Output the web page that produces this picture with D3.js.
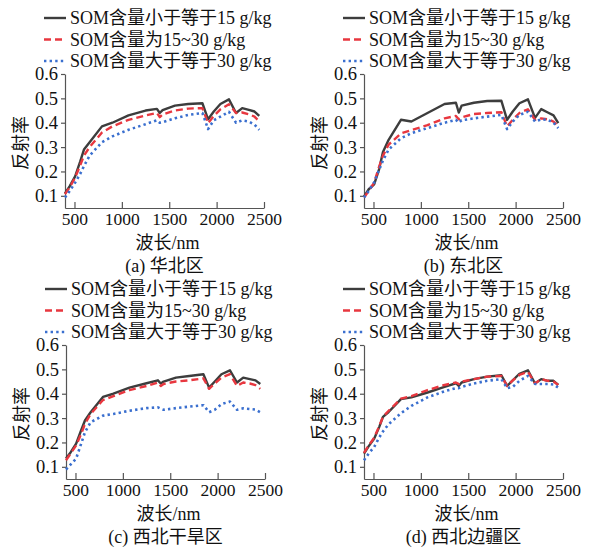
<!DOCTYPE html>
<html>
<head>
<meta charset="utf-8">
<script src="https://cdn.jsdelivr.net/npm/d3@7"></script>
<style>
  body { margin: 0; background: #fff; }
  svg text { font-family: 'Liberation Serif', 'Times New Roman', 'Noto Sans CJK SC', serif; fill: #111; }
</style>
</head>
<body>
<div id="chart"></div>
<script>
// wavelength samples (nm), shared by all panels
const wavelengths = [400, 450, 507, 560, 600, 660, 790, 900, 1070, 1250, 1370, 1400, 1430,
  1560, 1700, 1850, 1910, 1970, 2040, 2130, 2205, 2270, 2340, 2400, 2450];

const seriesNames = ['SOM含量小于等于15 g/kg', 'SOM含量为15~30 g/kg', 'SOM含量大于等于30 g/kg'];
const panelCaptions = ['(a) 华北区', '(b) 东北区', '(c) 西北干旱区', '(d) 西北边疆区'];
const xTicks = [500, 1000, 1500, 2000, 2500];
const yTicks = [0.1, 0.2, 0.3, 0.4, 0.5, 0.6];

// (a) 华北区
const huabeiLow = [0.11, 0.14, 0.18, 0.24, 0.29, 0.32, 0.385, 0.40, 0.43, 0.45, 0.457, 0.44, 0.452,
  0.47, 0.477, 0.48, 0.414, 0.446, 0.477, 0.496, 0.44, 0.46, 0.453, 0.446, 0.428];
const huabeiMid = [0.107, 0.135, 0.175, 0.225, 0.265, 0.30, 0.36, 0.385, 0.412, 0.43, 0.44, 0.423, 0.434,
  0.45, 0.458, 0.46, 0.398, 0.428, 0.455, 0.476, 0.44, 0.442, 0.435, 0.425, 0.405];
const huabeiHigh = [0.093, 0.12, 0.154, 0.19, 0.222, 0.265, 0.32, 0.344, 0.371, 0.394, 0.41, 0.40, 0.402,
  0.418, 0.432, 0.44, 0.374, 0.41, 0.425, 0.445, 0.40, 0.41, 0.405, 0.392, 0.371];

// (b) 东北区
const dongbeiLow = [0.097, 0.127, 0.147, 0.21, 0.28, 0.33, 0.412, 0.405, 0.44, 0.477, 0.482, 0.442, 0.47,
  0.482, 0.489, 0.49, 0.412, 0.446, 0.48, 0.496, 0.42, 0.456, 0.442, 0.43, 0.398];
const dongbeiMid = [0.093, 0.12, 0.154, 0.22, 0.265, 0.31, 0.356, 0.37, 0.39, 0.418, 0.428, 0.414, 0.422,
  0.436, 0.44, 0.443, 0.385, 0.412, 0.44, 0.455, 0.412, 0.418, 0.414, 0.405, 0.385];
const dongbeiHigh = [0.093, 0.12, 0.155, 0.207, 0.245, 0.29, 0.336, 0.357, 0.378, 0.40, 0.412, 0.40, 0.41,
  0.418, 0.425, 0.432, 0.374, 0.405, 0.432, 0.445, 0.405, 0.414, 0.412, 0.40, 0.378];

// (c) 西北干旱区
const ganhanLow = [0.134, 0.16, 0.195, 0.25, 0.29, 0.324, 0.387, 0.40, 0.425, 0.443, 0.455, 0.442, 0.45,
  0.466, 0.473, 0.48, 0.425, 0.45, 0.48, 0.496, 0.446, 0.466, 0.46, 0.455, 0.44];
const ganhanMid = [0.127, 0.155, 0.188, 0.235, 0.276, 0.317, 0.374, 0.39, 0.415, 0.432, 0.446, 0.432, 0.44,
  0.45, 0.455, 0.463, 0.42, 0.442, 0.466, 0.48, 0.432, 0.446, 0.442, 0.435, 0.42];
const ganhanHigh = [0.089, 0.11, 0.134, 0.195, 0.242, 0.283, 0.31, 0.317, 0.33, 0.341, 0.344, 0.338, 0.334,
  0.341, 0.347, 0.353, 0.324, 0.334, 0.357, 0.368, 0.334, 0.34, 0.337, 0.335, 0.324];

// (d) 西北边疆区
const bianjiangLow = [0.154, 0.185, 0.215, 0.263, 0.305, 0.325, 0.378, 0.385, 0.405, 0.428, 0.443, 0.432, 0.446,
  0.46, 0.47, 0.476, 0.432, 0.455, 0.482, 0.496, 0.442, 0.46, 0.453, 0.453, 0.436];
const bianjiangMid = [0.157, 0.188, 0.219, 0.266, 0.305, 0.33, 0.38, 0.39, 0.415, 0.436, 0.446, 0.44, 0.45,
  0.46, 0.47, 0.473, 0.432, 0.455, 0.477, 0.49, 0.442, 0.46, 0.453, 0.45, 0.436];
const bianjiangHigh = [0.127, 0.155, 0.181, 0.22, 0.245, 0.275, 0.32, 0.35, 0.385, 0.41, 0.423, 0.423, 0.428,
  0.442, 0.453, 0.46, 0.423, 0.428, 0.453, 0.473, 0.44, 0.44, 0.44, 0.438, 0.425];

const panelSeries = [
  [huabeiLow, huabeiMid, huabeiHigh],
  [dongbeiLow, dongbeiMid, dongbeiHigh],
  [ganhanLow, ganhanMid, ganhanHigh],
  [bianjiangLow, bianjiangMid, bianjiangHigh]
];

// line styles for the three SOM classes
const styles = [
  { color: '#3d3d3d', dash: null, width: 2.4 },
  { color: '#e8373f', dash: '7,4', width: 2.4 },
  { color: '#3a6fcf', dash: '2.4,3.2', width: 2.6 }
];

// panel placement: left edge of plot, top (y=0.6)
const panelPos = [
  { left: 65, top: 74 },
  { left: 364, top: 74 },
  { left: 66, top: 345 },
  { left: 364, top: 345 }
];
const plotW = 199;
const plotH = 134;

const svg = d3.select('#chart').append('svg')
  .attr('width', 596)
  .attr('height', 548);

panelPos.forEach((pos, i) => drawPanel(pos, i));

function drawPanel(pos, i) {
  const g = svg.append('g').attr('transform', `translate(${pos.left},${pos.top})`);

  const x = d3.scaleLinear().domain([400, 2500]).range([0, plotW]);
  const y = d3.scaleLinear().domain([0.05, 0.6]).range([plotH, 0]);

  // x axis, ticks pointing inward
  const xAxis = g.append('g')
    .attr('transform', `translate(0,${plotH})`)
    .call(d3.axisBottom(x).tickValues(xTicks).tickFormat(d3.format('d'))
      .tickSizeInner(-6).tickSizeOuter(0).tickPadding(5));
  xAxis.selectAll('text').attr('font-size', 17.5).attr('fill', '#111');

  // y axis, outward ticks
  const yAxis = g.append('g')
    .call(d3.axisLeft(y).tickValues(yTicks).tickFormat(d3.format('.1f'))
      .tickSizeInner(4).tickSizeOuter(0).tickPadding(3));
  yAxis.selectAll('text').attr('font-size', 18.5).attr('fill', '#111');

  [xAxis, yAxis].forEach(ax => {
    ax.select('.domain').attr('stroke', '#555').attr('stroke-width', 1.2);
    ax.selectAll('.tick line').attr('stroke', '#555').attr('stroke-width', 1.2);
  });

  // curves
  const line = d3.line()
    .x((d, k) => x(wavelengths[k]))
    .y(d => y(d));

  panelSeries[i].forEach((vals, s) => {
    g.append('path')
      .datum(vals)
      .attr('d', line)
      .attr('fill', 'none')
      .attr('stroke', styles[s].color)
      .attr('stroke-width', styles[s].width)
      .attr('stroke-linejoin', 'round')
      .attr('stroke-dasharray', styles[s].dash);
  });

  // legend above the plot
  const legend = g.append('g').attr('transform', 'translate(0,-56)');
  seriesNames.forEach((name, s) => {
    const row = legend.append('g').attr('transform', `translate(0,${s * 21.5})`);
    row.append('line')
      .attr('x1', -21).attr('x2', 1)
      .attr('stroke', styles[s].color)
      .attr('stroke-width', styles[s].width)
      .attr('stroke-dasharray', styles[s].dash);
    row.append('text')
      .attr('x', 5)
      .attr('dy', '0.35em')
      .attr('font-size', 18)
      .text(name);
  });

  // axis titles and caption
  g.append('text')
    .attr('x', plotW / 2 + 3)
    .attr('y', plotH + 41)
    .attr('text-anchor', 'middle')
    .attr('font-size', 18)
    .text('波长/nm');

  g.append('text')
    .attr('x', plotW / 2)
    .attr('y', plotH + 64)
    .attr('text-anchor', 'middle')
    .attr('font-size', 18)
    .text(panelCaptions[i]);

  g.append('text')
    .attr('transform', `translate(-38,${plotH / 2 + 2}) rotate(-90)`)
    .attr('text-anchor', 'middle')
    .attr('font-size', 18)
    .text('反射率');
}
</script>
</body>
</html>
